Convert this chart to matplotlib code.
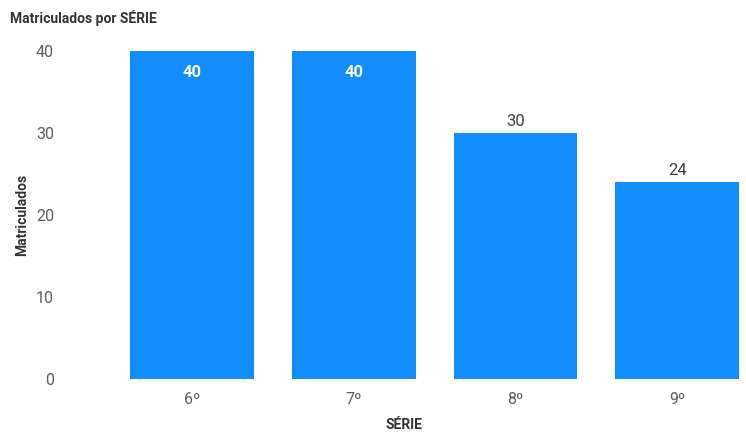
import matplotlib.pyplot as plt

series = ['6º', '7º', '8º', '9º']
matriculados = [40, 40, 30, 24]
yticks = [0, 10, 20, 30, 40]

plt.rcParams['font.family'] = ['Roboto', 'DejaVu Sans']

fig = plt.figure(figsize=(7.46, 4.34), dpi=100)
ax = fig.add_axes([65 / 746, 55 / 434, 677 / 746, 328 / 434])

x = list(range(len(series)))
bars = ax.bar(x, matriculados, width=0.765, color='#118DFF')

ax.set_xlim(-0.785, 3.40)
ax.set_ylim(0, 40)
ax.set_yticks(yticks)
ax.set_xticks(x)
ax.set_xticklabels(series)

for s in ax.spines.values():
    s.set_visible(False)
ax.tick_params(axis='both', length=0, colors='#605E5C', labelsize=11.5)
ax.tick_params(axis='y', pad=8)
ax.tick_params(axis='x', pad=9)

# rotulos: dentro da barra quando ela encosta no topo, acima nas outras
for xi, v in zip(x, matriculados):
    if v >= 38:
        ax.text(xi, v - 1.7, str(v), ha='center', va='top', color='white',
                fontsize=12, fontweight='bold')
    else:
        ax.text(xi, v + 0.5, str(v), ha='center', va='bottom', color='#404040',
                fontsize=12)

ax.set_ylabel('Matriculados', fontsize=10, fontweight='bold', color='#333333',
              labelpad=5)
ax.set_xlabel('SÉRIE', fontsize=10, fontweight='bold', color='#333333',
              labelpad=8)
fig.text(10 / 746, 1 - 18 / 434, 'Matriculados por SÉRIE', fontsize=10,
         fontweight='bold', color='#333333', va='center', ha='left')

fig.savefig('out.png', dpi=100)
